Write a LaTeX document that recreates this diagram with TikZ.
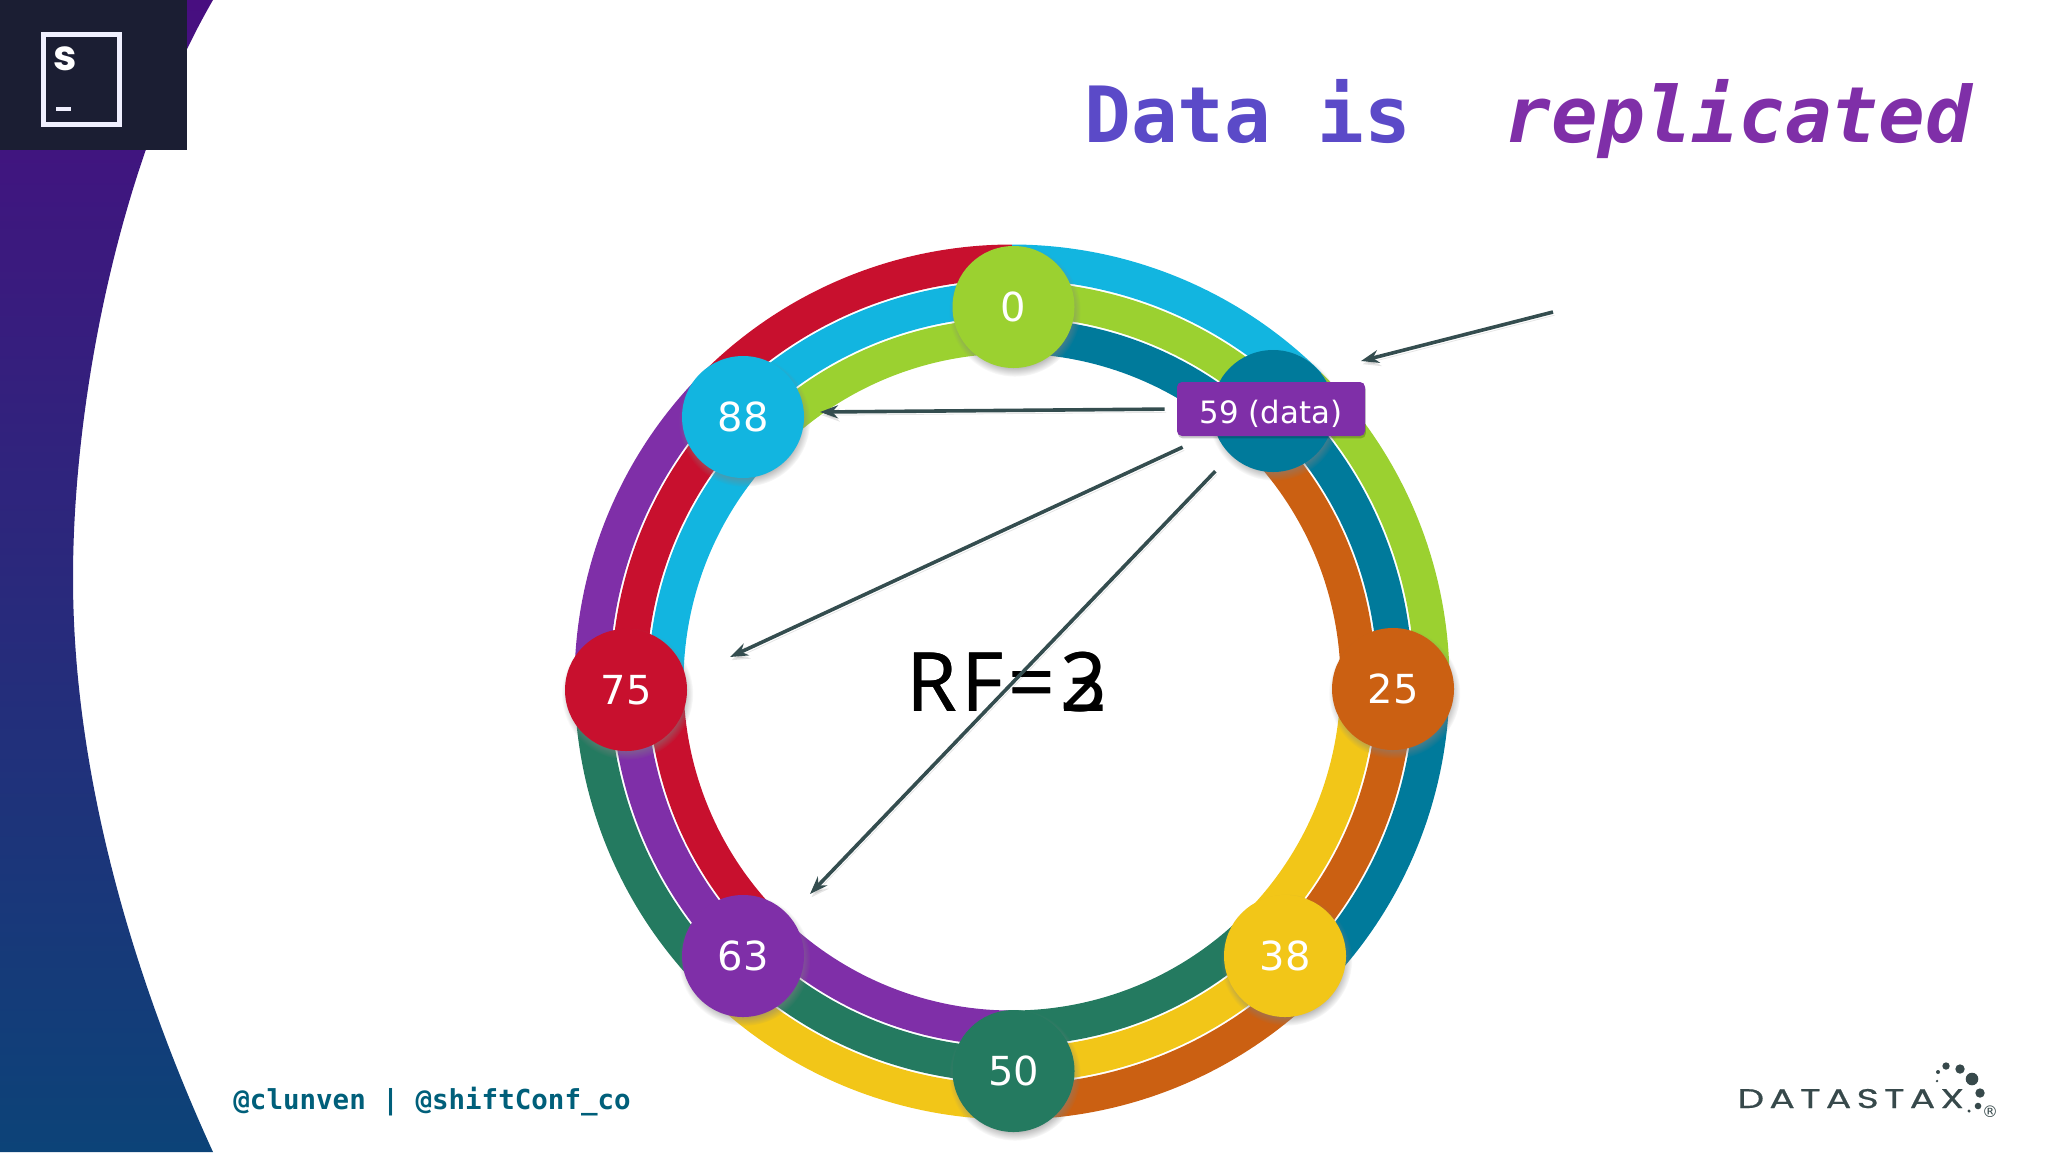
\documentclass[tikz,border=0pt]{standalone}
\usepackage{fontspec}
\setmainfont{DejaVu Sans}
\setmonofont{DejaVu Sans Mono}
\newfontfamily\logofont{Poppins}
\newfontfamily\brandfont[LetterSpace=19.5,FakeStretch=1.4,FakeBold=.6]{Poppins}
\newfontfamily\rffont[LetterSpace=5.5]{Noto Sans}
\usetikzlibrary{arrows.meta}
\usetikzlibrary{shadows}

\definecolor{ringcyan}{HTML}{12B5E0}
\definecolor{ringlime}{HTML}{9BD130}
\definecolor{ringteal}{HTML}{007A9B}
\definecolor{ringorange}{HTML}{CB6012}
\definecolor{ringyellow}{HTML}{F2C618}
\definecolor{ringgreen}{HTML}{247A60}
\definecolor{ringpurple}{HTML}{7F2FA8}
\definecolor{ringred}{HTML}{C8102E}
\definecolor{arrowslate}{HTML}{344D4F}
\definecolor{titleblue}{HTML}{5B4AC8}
\definecolor{handlecolor}{HTML}{005F7A}
\definecolor{logodark}{HTML}{1B1E33}
\definecolor{brandgray}{HTML}{37494B}
\definecolor{bandtop}{HTML}{480E80}
\definecolor{bandmid}{HTML}{262C82}
\definecolor{bandbottom}{HTML}{0C4378}

\tikzset{
  ringarc/.style={line width=17.5pt,line cap=butt},
  tokennode/.style={circle,minimum size=61pt,inner sep=0pt,text=white,font=\fontsize{20}{24}\selectfont,
    circular drop shadow={shadow xshift=.6pt,shadow yshift=-1.8pt,shadow scale=1.08,opacity=.55}},
  replicaline/.style={arrowslate,line width=1.8pt,-{Stealth[length=9pt,width=6.5pt]},
    preaction={draw=black,opacity=.1,transform canvas={xshift=.8pt,yshift=-1.6pt}}},
  rftext/.style={black,font=\rffont\fontsize{41}{48}\selectfont,anchor=base west,inner sep=0pt},
  plaintext/.style={anchor=base west,inner sep=0pt},
}

\begin{document}
\begin{tikzpicture}[x=.5pt,y=-.5pt]

\useasboundingbox (0,0) rectangle (2048,1152);

\shade[top color=bandtop,middle color=bandmid,bottom color=bandbottom]
  (0,0) -- (213,0) .. controls (120,160) and (73,400) .. (73,578) .. controls (73,760) and (125,960) .. (213,1152) -- (0,1152) -- cycle;

\fill[logodark] (0,0) rectangle (187,150);
\draw[white!94!blue,line width=2.5pt] (43.5,34.5) rectangle (119.5,124.5);
\node[white,anchor=base,font=\logofont\bfseries\fontsize{21}{24}\selectfont] (logos) at (65,70) {s};
\fill[white!94!blue] (56,107) rectangle (71,111);

\node[plaintext,font=\ttfamily\bfseries\fontsize{38.8}{44}\selectfont] (title) at (1084,142)
  {\color{titleblue}Data is\ \ \color{ringpurple}\itshape replicated};

\begin{scope}[shift={(1012,682)},x=.5pt,y=.5pt]
\foreach \a/\co/\cm/\ci in {90/ringcyan/ringlime/ringteal,
    45/ringlime/ringteal/ringorange,
    0/ringteal/ringorange/ringyellow,
    -45/ringorange/ringyellow/ringgreen,
    -90/ringyellow/ringgreen/ringpurple,
    -135/ringgreen/ringpurple/ringred,
    180/ringpurple/ringred/ringcyan,
    135/ringred/ringcyan/ringlime}
{
  \draw[ringarc,draw=\co] (\a:420) arc[start angle=\a,delta angle=-45,radius=420];
  \draw[ringarc,draw=\cm] (\a:383) arc[start angle=\a,delta angle=-45,radius=383];
  \draw[ringarc,draw=\ci] (\a:346) arc[start angle=\a,delta angle=-45,radius=346];
}
\end{scope}

\node[tokennode,fill=ringlime] (n0) at (1013.5,307) {0};
\node[tokennode,fill=ringteal] (n59) at (1273,411) {};
\node[tokennode,fill=ringorange] (n25) at (1393,689) {25};
\node[tokennode,fill=ringyellow] (n38) at (1285,956) {38};
\node[tokennode,fill=ringgreen] (n50) at (1013.5,1071) {50};
\node[tokennode,fill=ringpurple] (n63) at (743,956) {63};
\node[tokennode,fill=ringred] (n75) at (626,690) {75};
\node[tokennode,fill=ringcyan] (n88) at (743,417) {88};

\node[fill=ringpurple,rounded corners=2.5pt,text=white,minimum width=94pt,minimum height=27pt,inner sep=0pt,text height=14pt,text depth=0pt,font=\fontsize{15.4}{18}\selectfont,
  drop shadow={shadow xshift=.4pt,shadow yshift=-1.2pt,opacity=.2,fill=black}] (data) at (1271,409) {59 (data)};

\node[rftext] (rfthree) at (906,711) {RF=3};
\node[rftext] (rftwo) at (906,711) {RF=2};

\coordinate (clientstart) at (1553,312);
\coordinate (clienttip) at (1361,361);
\coordinate (tipa) at (730,657);
\coordinate (tipb) at (810,894);
\coordinate (tipc) at (820,412);

\draw[replicaline] (clientstart) -- (clienttip);
\draw[replicaline,shorten <=6pt] (data.west) -- (tipc);
\draw[replicaline,shorten <=18pt] (n59.200) -- (tipa);
\draw[replicaline,shorten <=11pt] (n59) -- (tipb);

\node[plaintext,handlecolor,font=\ttfamily\bfseries\fontsize{13.75}{16}\selectfont] (handles) at (233,1109) {@clunven | @shiftConf\_co};

\node[plaintext,brandgray,font=\brandfont\fontsize{13.5}{16}\selectfont] (brand) at (1737,1108) {DATASTAX};
\foreach \dx/\dy/\dr in {1946/1066/3.7,1960/1069/4.7,1972/1079/6.3,1980/1093/4.7,1978/1106/3.3,1969/1111/1.7,1938/1072/2,1937/1081/1.3}
{
  \fill[brandgray] (\dx,\dy) circle[radius=\dr];
}
\node[brandgray,inner sep=0pt,font=\fontsize{8}{9}\selectfont] (regmark) at (1990,1112) {®};

\end{tikzpicture}
\end{document}
